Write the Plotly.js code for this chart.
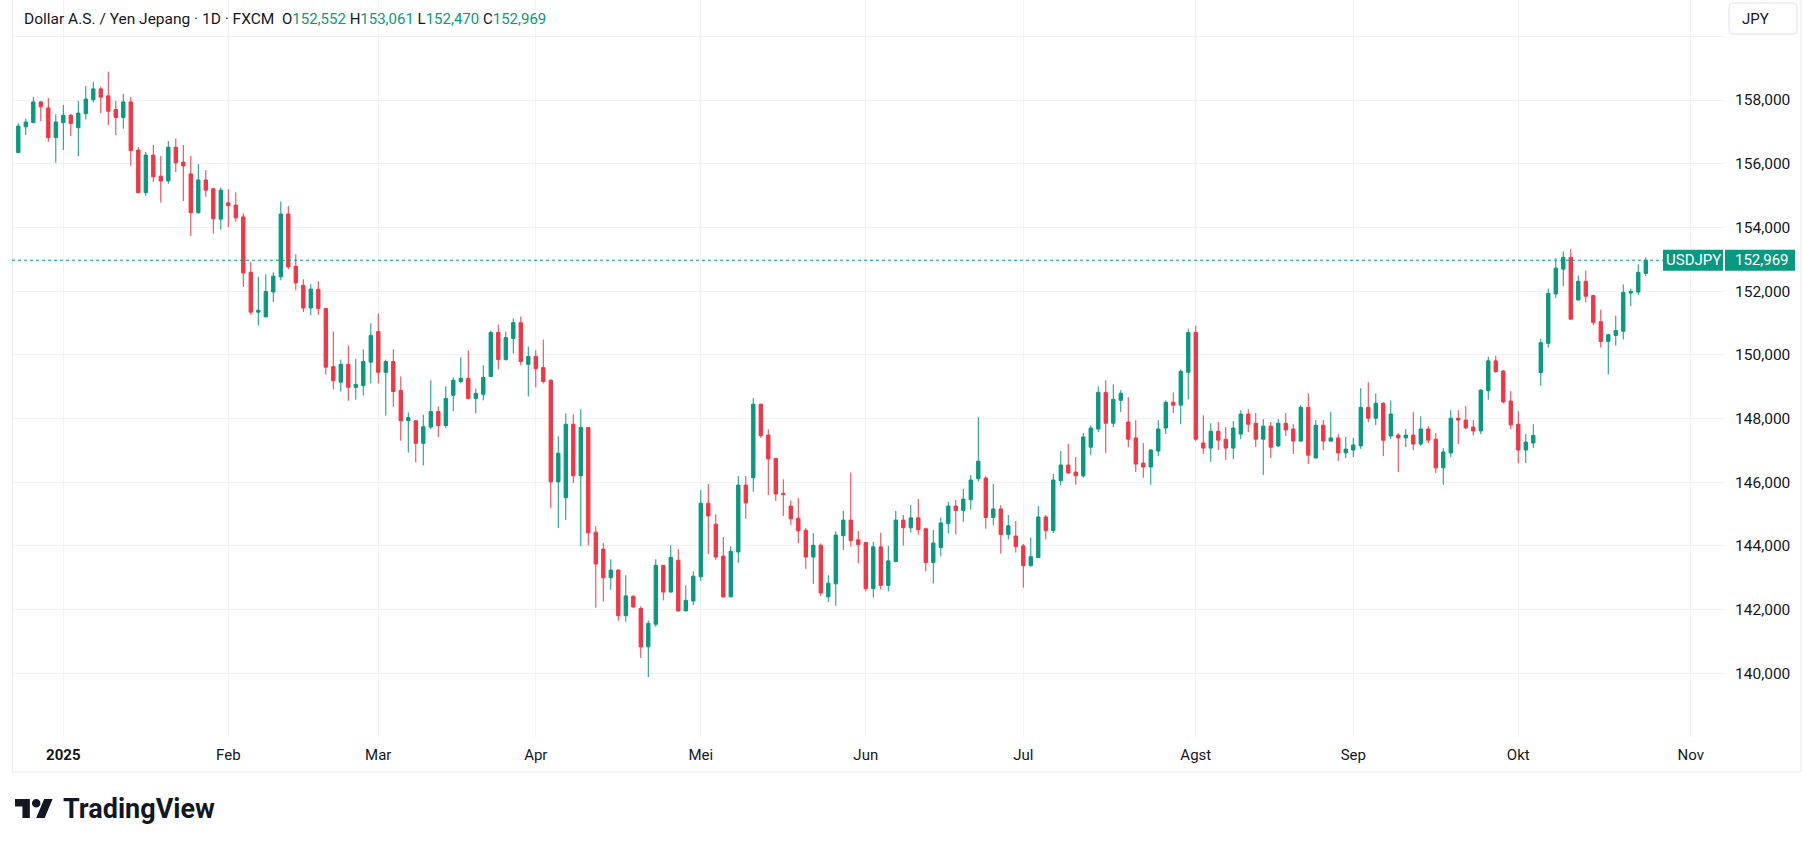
<!DOCTYPE html>
<html>
<head>
<meta charset="utf-8">
<script src="https://cdn.plot.ly/plotly-3.0.1.min.js"></script>
<style>
html,body{margin:0;padding:0;background:#ffffff;}
#chart{width:1802px;height:846px;}
</style>
</head>
<body>
<div id="chart"></div>
<script>
// ---------------- DATA ----------------
const symbolName = 'USDJPY';
const headerTitle = 'Dollar A.S. / Yen Jepang · 1D · FXCM';
const currencyLabel = 'JPY';
const brandName = 'TradingView';
const firstDay = '2024-12-23';
const holidays = ['2024-12-25', '2025-01-01'];
const monthLabels = ['2025','Feb','Mar','Apr','Mei','Jun','Jul','Agst','Sep','Okt','Nov','Des'];
const priceTicks = [140,142,144,146,148,150,152,154,156,158,160];

const open = [
156.35,157.16,157.29,157.94,157.75,156.82,157.29,157.52,157.13,157.57,
158.01,158.35,158.13,157.70,157.45,157.94,156.43,155.09,156.27,155.61,
155.46,156.52,156.05,155.68,154.46,155.49,155.21,154.26,154.77,154.70,
154.33,152.59,151.34,151.19,151.97,152.45,154.42,152.78,152.18,151.47,
152.06,151.45,149.63,149.14,149.70,148.98,149.03,149.77,150.73,149.45,
149.79,148.88,147.93,147.93,147.22,147.73,148.22,147.78,148.73,149.16,
149.26,148.63,148.76,149.32,150.70,149.85,150.51,151.01,149.70,149.95,
149.60,149.20,146.01,145.51,147.82,146.20,147.72,144.43,143.90,143.00,
143.24,141.81,142.42,142.04,140.83,141.54,143.39,142.55,143.55,141.96,
142.27,143.03,145.34,144.68,143.68,142.40,143.81,145.91,146.14,148.45,
147.48,146.75,145.65,145.25,144.87,144.49,143.65,144.02,142.40,142.81,
144.32,144.81,144.19,144.11,142.66,143.97,142.76,143.51,144.81,144.57,
144.88,144.54,143.48,143.95,144.70,145.25,145.11,145.45,146.11,146.13,
144.89,145.16,144.36,144.31,144.00,143.38,143.63,144.91,144.48,146.05,
146.54,146.32,146.20,147.10,147.67,148.82,147.85,148.57,147.89,147.39,
146.60,146.48,146.98,147.70,148.51,148.42,149.45,150.70,147.23,147.07,
147.60,147.35,147.07,147.51,148.14,147.85,147.35,147.76,147.14,147.85,
147.67,147.29,148.35,146.76,147.79,147.29,147.39,146.92,147.01,147.14,
148.35,148.01,148.48,147.45,147.48,147.39,147.48,147.20,147.67,147.35,
146.45,146.92,148.01,147.95,147.73,147.61,148.87,149.81,149.49,148.55,
147.82,147.01,147.23,149.44,150.36,151.91,152.69,153.06,151.72,152.31,
151.86,151.04,150.42,150.61,150.74,151.94,151.97,152.552
];
const high = [
157.27,157.41,158.09,157.97,158.06,157.55,157.84,157.57,157.97,158.44,
158.57,158.42,158.89,157.97,158.19,158.09,156.52,156.37,156.59,156.24,
156.71,156.79,156.59,156.24,155.99,155.80,155.24,155.25,155.20,155.10,
154.44,152.91,152.45,152.53,152.59,154.81,154.67,153.16,152.37,152.22,
152.31,151.46,150.73,149.85,150.29,149.88,150.17,150.99,151.30,149.85,
150.17,149.32,148.19,147.95,148.12,149.20,148.38,149.01,149.29,149.92,
150.14,148.94,149.67,150.76,150.95,150.73,151.14,151.20,150.26,150.14,
150.48,149.23,147.44,148.16,148.13,148.29,147.73,144.62,144.09,143.58,
143.27,143.08,142.45,142.10,141.66,143.58,143.40,144.02,143.90,142.76,
143.20,145.75,145.94,144.99,144.28,143.99,146.19,146.19,148.64,148.46,
147.66,146.76,146.09,145.43,145.50,144.56,144.40,144.08,143.08,144.46,
145.10,146.30,144.47,144.12,144.13,144.41,144.00,145.10,144.97,145.28,
145.47,144.57,144.50,144.89,145.38,145.44,145.79,146.22,148.04,146.19,
145.94,145.28,144.97,144.78,144.06,144.26,145.25,144.97,146.26,146.98,
147.20,146.79,147.54,147.79,149.01,149.20,149.07,148.89,148.67,147.95,
147.23,147.04,147.95,148.57,148.82,149.54,150.82,150.92,148.10,147.85,
147.89,147.73,147.92,148.26,148.29,148.17,147.98,147.89,147.98,148.17,
147.82,148.42,148.79,147.95,147.95,148.20,147.51,147.42,147.39,148.95,
149.14,148.79,148.51,148.57,147.54,147.67,148.20,148.07,147.76,147.54,
147.07,148.26,148.26,148.39,147.95,148.93,149.94,149.97,149.53,148.86,
148.23,147.51,147.82,150.51,152.08,153.03,153.25,153.32,152.49,152.65,
151.89,151.42,150.66,151.23,152.21,152.08,152.84,153.061
];
const low = [
156.33,156.90,157.27,157.34,156.69,156.03,156.43,156.87,156.24,157.39,
157.92,157.59,157.22,156.90,157.10,155.93,155.07,154.99,155.43,154.78,
155.37,155.74,154.83,153.73,154.43,154.96,153.80,153.93,154.01,154.18,
152.13,151.26,150.92,151.19,151.66,152.34,152.69,152.03,151.34,151.24,
151.26,149.38,148.91,148.85,148.56,148.59,148.72,149.10,149.10,148.09,
148.37,147.30,146.93,146.62,146.53,147.67,147.42,147.70,148.23,149.10,
148.60,148.16,148.57,149.31,149.54,149.82,150.04,149.67,148.69,148.98,
149.10,145.18,144.56,144.81,145.98,143.99,144.02,142.06,142.25,142.62,
141.65,141.62,142.07,140.48,139.88,141.46,142.29,142.54,141.95,141.95,
142.14,142.90,143.75,143.56,142.37,142.39,143.47,144.85,145.70,147.39,
145.60,145.41,144.94,144.66,144.09,143.28,142.81,142.43,142.24,142.12,
143.87,143.98,143.45,142.57,142.38,142.63,142.57,143.48,144.01,144.42,
144.35,143.20,142.82,143.67,144.39,144.36,144.76,145.14,146.02,144.54,
144.64,143.76,144.20,143.79,142.69,143.35,143.63,144.20,144.40,145.90,
146.26,145.92,146.14,146.85,147.57,146.92,147.73,148.20,147.10,146.32,
146.14,145.92,146.82,147.51,148.17,147.82,148.60,147.29,146.89,146.64,
147.01,146.70,146.73,147.35,147.57,147.10,146.23,146.76,147.10,147.45,
146.89,147.26,146.57,146.75,147.01,147.28,146.67,146.76,146.79,147.04,
147.89,147.79,146.82,147.35,146.32,147.10,147.01,147.14,147.23,146.29,
145.92,146.79,147.20,147.66,147.47,147.51,148.59,149.44,148.48,147.67,
146.60,146.60,147.07,149.03,150.23,151.78,152.16,151.11,151.71,151.65,
150.93,150.23,149.38,150.29,150.48,151.53,151.87,152.470
];
const close = [
157.18,157.31,157.94,157.79,156.82,157.31,157.52,157.26,157.59,158.03,
158.35,158.09,157.65,157.45,157.94,156.41,155.09,156.27,155.59,155.46,
156.52,156.03,155.93,154.46,155.49,155.17,154.27,155.17,154.68,154.30,
152.57,151.34,151.40,151.99,152.47,154.42,152.76,152.26,151.47,152.06,
151.45,149.61,149.19,149.70,148.98,149.07,149.79,150.61,149.45,149.79,
148.85,147.93,148.03,147.22,147.74,148.22,147.78,148.63,149.20,149.26,
148.63,148.79,149.29,150.70,149.85,150.54,151.01,149.79,149.95,149.57,
149.16,146.01,146.91,147.82,146.20,147.72,144.41,143.43,143.00,143.24,
141.81,142.43,142.08,140.83,141.57,143.39,142.55,143.64,141.96,142.29,
143.05,145.34,144.94,143.65,142.40,143.83,145.91,145.35,148.45,147.46,
146.73,145.63,145.62,144.85,144.47,143.65,144.02,142.52,142.83,144.34,
144.81,144.17,144.04,142.66,143.97,142.76,143.53,144.81,144.57,144.88,
144.51,143.48,144.09,144.72,145.25,145.11,145.47,146.07,146.66,144.89,
145.16,144.36,144.63,143.98,143.38,143.66,144.91,144.48,146.07,146.54,
146.29,146.20,147.42,147.70,148.82,147.85,148.60,148.79,147.35,146.57,
146.48,147.01,147.67,148.51,148.42,149.48,150.70,147.35,147.07,147.60,
147.32,147.07,147.70,148.14,147.82,147.35,147.76,147.10,147.85,147.64,
147.29,148.35,146.85,147.79,147.29,147.39,146.92,147.04,147.17,148.35,
148.01,148.48,147.32,148.14,147.39,147.48,147.20,147.67,147.32,146.45,
146.95,148.01,147.95,147.71,147.61,148.89,149.81,149.47,148.52,147.80,
147.01,147.26,147.47,150.38,151.93,152.72,153.06,151.12,152.31,151.84,
151.02,150.42,150.63,150.76,151.96,151.99,152.59,152.969
];

// ---------------- LAYOUT GEOMETRY ----------------
const W = 1802, H = 846;
const plotL = 12, plotR = 1724, plotT = 0, plotB = 737;
const yMin = 138.0, yMax = 161.14;
const xMin = -0.84, xMax = 227.43;
const UP = '#089981', DOWN = '#F23645', TXT = '#131722', GRID = '#f0f1f4';
const fx = px => (px - plotL) / (plotR - plotL);
const fy = py => (plotB - py) / (plotB - plotT);
const P = (px, py) => fx(px) + ',' + fy(py);
const priceToPx = p => plotB - (p - yMin) / (yMax - yMin) * (plotB - plotT);
const fmt = v => v.toFixed(3).replace('.', ',');

// trading-day calendar (weekdays minus listed holidays)
const iso = d => d.toISOString().slice(0, 10);
const dates = [];
{
  let d = new Date(firstDay + 'T00:00:00Z');
  while (dates.length < open.length + 12) {
    const wd = d.getUTCDay(), s = iso(d);
    if (wd !== 0 && wd !== 6 && !holidays.includes(s)) dates.push(s);
    d.setUTCDate(d.getUTCDate() + 1);
  }
}
const idx = open.map((_, i) => i);
const tickIdx = [], tickTxt = [];
for (let i = 1; i < dates.length; i++) {
  const m = dates[i].slice(5, 7);
  if (m !== dates[i - 1].slice(5, 7) && i <= xMax) {
    const mi = +m - 1;
    tickIdx.push(i);
    tickTxt.push(mi === 0 ? '<b>' + dates[i].slice(0, 4) + '</b>' : monthLabels[mi]);
  }
}
const yTickText = priceTicks.map(v => v >= 160 ? '' : fmt(v));

const last = open.length - 1;
const lastClose = close[last];
const lastPy = priceToPx(lastClose);
const g = s => '<span style="color:' + UP + '">' + s + '</span>';
const nb = '\u00a0';
const headerText = headerTitle + nb + nb +
  '<span style="font-size:15px">O' + g(fmt(open[last])) + nb + 'H' + g(fmt(high[last])) +
  nb + 'L' + g(fmt(low[last])) + nb + 'C' + g(fmt(close[last])) + '</span>';

// logo geometry (TradingView mark, 36x28 units)
const ls = 1.06, lox = 15, loy = 799 - 4 * ls;
const LP = (ux, uy) => P(lox + ux * ls, loy + uy * ls);
const logoT = 'M' + LP(0,4) + ' L' + LP(14,4) + ' L' + LP(14,22) + ' L' + LP(7,22) + ' L' + LP(7,11) + ' L' + LP(0,11) + ' Z';
const logoS = 'M' + LP(27.5,4) + ' L' + LP(35.5,4) + ' L' + LP(28,22) + ' L' + LP(20,22) + ' Z';

function roundRect(x0, y0, x1, y1, r) {
  return 'M' + P(x0 + r, y0) + ' L' + P(x1 - r, y0) + ' Q' + P(x1, y0) + ' ' + P(x1, y0 + r) +
    ' L' + P(x1, y1 - r) + ' Q' + P(x1, y1) + ' ' + P(x1 - r, y1) +
    ' L' + P(x0 + r, y1) + ' Q' + P(x0, y1) + ' ' + P(x0, y1 - r) +
    ' L' + P(x0, y0 + r) + ' Q' + P(x0, y0) + ' ' + P(x0 + r, y0) + ' Z';
}

const trace = {
  type: 'candlestick',
  x: idx, open: open, high: high, low: low, close: close,
  text: dates.slice(0, open.length),
  increasing: { line: { color: UP, width: 1 }, fillcolor: UP },
  decreasing: { line: { color: DOWN, width: 1 }, fillcolor: DOWN },
  whiskerwidth: 0,
  hoverinfo: 'none'
};

const shapes = [
  { type: 'rect', xref: 'paper', yref: 'paper', x0: fx(12.5), x1: fx(1801), y0: fy(772), y1: fy(-2),
    line: { color: '#e8eaef', width: 1 }, fillcolor: 'rgba(0,0,0,0)', layer: 'below' },
  { type: 'line', xref: 'paper', yref: 'y', x0: 0, x1: fx(1663), y0: lastClose, y1: lastClose,
    line: { color: UP, width: 1, dash: 'dot' } },
  { type: 'rect', xref: 'paper', yref: 'paper', x0: fx(1663), x1: fx(1723), y0: fy(lastPy + 10.5), y1: fy(lastPy - 10.5),
    line: { width: 0 }, fillcolor: UP },
  { type: 'rect', xref: 'paper', yref: 'paper', x0: fx(1725), x1: fx(1795), y0: fy(lastPy + 10.5), y1: fy(lastPy - 10.5),
    line: { width: 0 }, fillcolor: UP },
  { type: 'path', xref: 'paper', yref: 'paper', path: roundRect(1729, 3, 1797, 34, 4),
    line: { color: '#e0e3eb', width: 1 }, fillcolor: '#ffffff' },
  { type: 'path', xref: 'paper', yref: 'paper', path: logoT, line: { width: 0 }, fillcolor: TXT },
  { type: 'path', xref: 'paper', yref: 'paper', path: logoS, line: { width: 0 }, fillcolor: TXT },
  { type: 'circle', xref: 'paper', yref: 'paper',
    x0: fx(lox + 16 * ls), x1: fx(lox + 24 * ls), y0: fy(loy + 12 * ls), y1: fy(loy + 4 * ls),
    line: { width: 0 }, fillcolor: TXT }
];

const annotations = [
  { xref: 'paper', yref: 'paper', x: fx(22), y: fy(19), xanchor: 'left', yanchor: 'middle',
    text: headerText, showarrow: false, font: { size: 15.5, color: TXT } },
  { xref: 'paper', yref: 'paper', x: fx(1740), y: fy(19), xanchor: 'left', yanchor: 'middle',
    text: currencyLabel, showarrow: false, font: { size: 15, color: TXT } },
  { xref: 'paper', yref: 'paper', x: fx(1693), y: fy(lastPy), xanchor: 'center', yanchor: 'middle',
    text: symbolName, showarrow: false, font: { size: 15, color: '#ffffff' } },
  { xref: 'paper', yref: 'paper', x: fx(1762), y: fy(lastPy), xanchor: 'center', yanchor: 'middle',
    text: fmt(lastClose), showarrow: false, font: { size: 15, color: '#ffffff' } },
  { xref: 'paper', yref: 'paper', x: fx(61), y: fy(808.5), xanchor: 'left', yanchor: 'middle',
    text: '<b>' + brandName + '</b>', showarrow: false, font: { size: 27, color: TXT } }
];

const layout = {
  width: W, height: H,
  margin: { l: plotL, r: W - plotR, t: plotT, b: H - plotB, pad: 0 },
  paper_bgcolor: '#ffffff', plot_bgcolor: '#ffffff',
  showlegend: false, dragmode: false, hovermode: false,
  separators: ',.',
  boxgap: 0.36,
  font: { family: 'Roboto, "Noto Sans", sans-serif', size: 15, color: TXT },
  xaxis: {
    type: 'linear', range: [xMin, xMax], rangeslider: { visible: false },
    tickmode: 'array', tickvals: tickIdx, ticktext: tickTxt,
    showgrid: true, gridcolor: GRID, gridwidth: 1, zeroline: false, showline: false,
    ticks: '', ticklabelstandoff: 7, tickfont: { size: 15, color: TXT }, fixedrange: true
  },
  yaxis: {
    range: [yMin, yMax], side: 'right',
    tickmode: 'array', tickvals: priceTicks, ticktext: yTickText,
    showgrid: true, gridcolor: GRID, gridwidth: 1, zeroline: false, showline: false,
    ticks: '', ticklabelstandoff: 10, tickfont: { size: 15.5, color: TXT }, fixedrange: true
  },
  shapes: shapes,
  annotations: annotations
};

Plotly.newPlot('chart', [trace], layout, { displayModeBar: false, staticPlot: true });
</script>
</body>
</html>
